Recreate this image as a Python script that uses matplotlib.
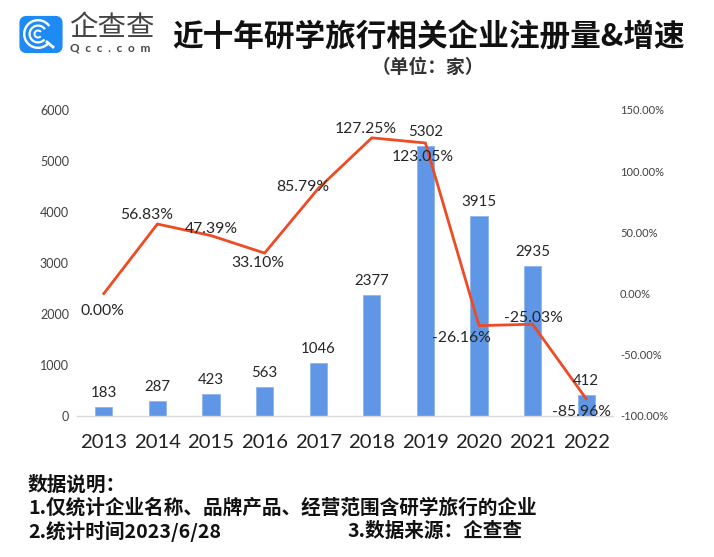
import matplotlib
matplotlib.use("Agg")
import matplotlib.pyplot as plt
from matplotlib.patches import FancyBboxPatch, Wedge

years = ["2013","2014","2015","2016","2017","2018","2019","2020","2021","2022"]
counts = [183,287,423,563,1046,2377,5302,3915,2935,412]
growth = [0.00,56.83,47.39,33.10,85.79,127.25,123.05,-26.16,-25.03,-85.96]
left_ticks = [0,1000,2000,3000,4000,5000,6000]
right_ticks = [-100,-50,0,50,100,150]

CJK = ['Noto Sans CJK SC', 'DejaVu Sans']
NUM = ['Lato', 'Noto Sans CJK SC']
W, H = 714, 557
fig = plt.figure(figsize=(W/100, H/100), dpi=100, facecolor="white")
L, R, T, B = 77, 613, 110, 416
ax = fig.add_axes([L/W, 1-B/H, (R-L)/W, (B-T)/H])
x = list(range(len(years)))
ax.bar(x, counts, width=0.32, color="#5F97E6", edgecolor="#8DB5EE", linewidth=0.6, zorder=2)
ax.set_xlim(-0.5, 9.5)
ax.set_ylim(0, 6000)
ax.set_yticks(left_ticks)
ax.set_xticks(x, years)
ax.tick_params(axis="y", length=0, labelsize=9, labelcolor="#404040", pad=5.8)
ax.tick_params(axis="x", length=0, labelsize=14.6, labelcolor="#222222", pad=13)
for lab in ax.get_xticklabels() + ax.get_yticklabels():
    lab.set_family(NUM)
for s in ["top", "left", "right"]:
    ax.spines[s].set_visible(False)
ax.spines["bottom"].set_color("#D9D9D9")
ax.spines["bottom"].set_linewidth(1)

ax2 = ax.twinx()
ax2.plot(x, growth, color="#EE4B25", linewidth=2.0, solid_joinstyle="miter", zorder=4)
ax2.set_ylim(-100, 150)
ax2.set_yticks(right_ticks, [f"{v:.2f}%" for v in right_ticks])
ax2.tick_params(axis="y", length=0, labelsize=8, labelcolor="#404040", pad=5)
for lab in ax2.get_yticklabels():
    lab.set_family(NUM)
for s in ax2.spines.values():
    s.set_visible(False)

px = 72/100
for xi, c in zip(x, counts):
    ax2.annotate(str(c), (xi, c/6000*250-100), xytext=(0, 14*px), textcoords="offset points",
                 ha="center", va="center", fontsize=10.8, color="#262626", family=NUM, zorder=5)
growth_label_offsets = [(-1,-17),(-11,9),(0,7),(-7,-10),(-15,2),(-6,9),(-3,-14),(-18,-12),(1,6),(-5,-13)]
for xi, g, (dx, dy) in zip(x, growth, growth_label_offsets):
    ax2.annotate(f"{g:.2f}%", (xi, g), xytext=(dx*px, dy*px), textcoords="offset points",
                 ha="center", va="center", fontsize=11.3, color="#262626", family=NUM, zorder=5)

ov = fig.add_axes([0, 0, 1, 1], zorder=10)
ov.set_xlim(0, W); ov.set_ylim(H, 0); ov.axis("off")

ov.text(172, 37, "近十年研学旅行相关企业注册量&增速", family=CJK, fontweight="bold",
        fontsize=22.1, color="#111111", va="center", ha="left")
ov.text(428, 67, "（单位：家）", family=CJK, fontweight="bold", fontsize=13.5,
        color="#333333", va="center", ha="center")

# logo
ov.add_patch(FancyBboxPatch((21.5, 18), 39, 33, boxstyle="round,pad=0,rounding_size=5",
                            mutation_aspect=1, fc="#1E8BF5", ec="#1E8BF5", lw=3))
for r, lw in [(15, 2.4), (9.5, 2.2), (4.5, 2.0)]:
    ov.add_patch(Wedge((38, 34), r, 40, 325, width=lw, fc="white", ec="none"))
ov.plot([47, 53], [42, 47], color="white", lw=2)
ov.text(69, 28, "企查查", family=CJK, fontsize=20.5, color="#444444", va="center", ha="left")
ov.text(70, 48, "  ".join("Qcc.com"), family=["Lato"], fontsize=8.5, fontweight="bold",
        color="#444444", va="center", ha="left")

foot = dict(family=CJK, fontweight="bold", fontsize=14.15, color="#111111", va="center", ha="left")
ov.text(28, 485, "数据说明：", **foot)
ov.text(28, 508, "1.仅统计企业名称、品牌产品、经营范围含研学旅行的企业", **foot)
ov.text(28, 531, "2.统计时间2023/6/28", **foot)
ov.text(347, 531, "3.数据来源：企查查", **foot)

fig.savefig("out.png", dpi=100, facecolor="white")
